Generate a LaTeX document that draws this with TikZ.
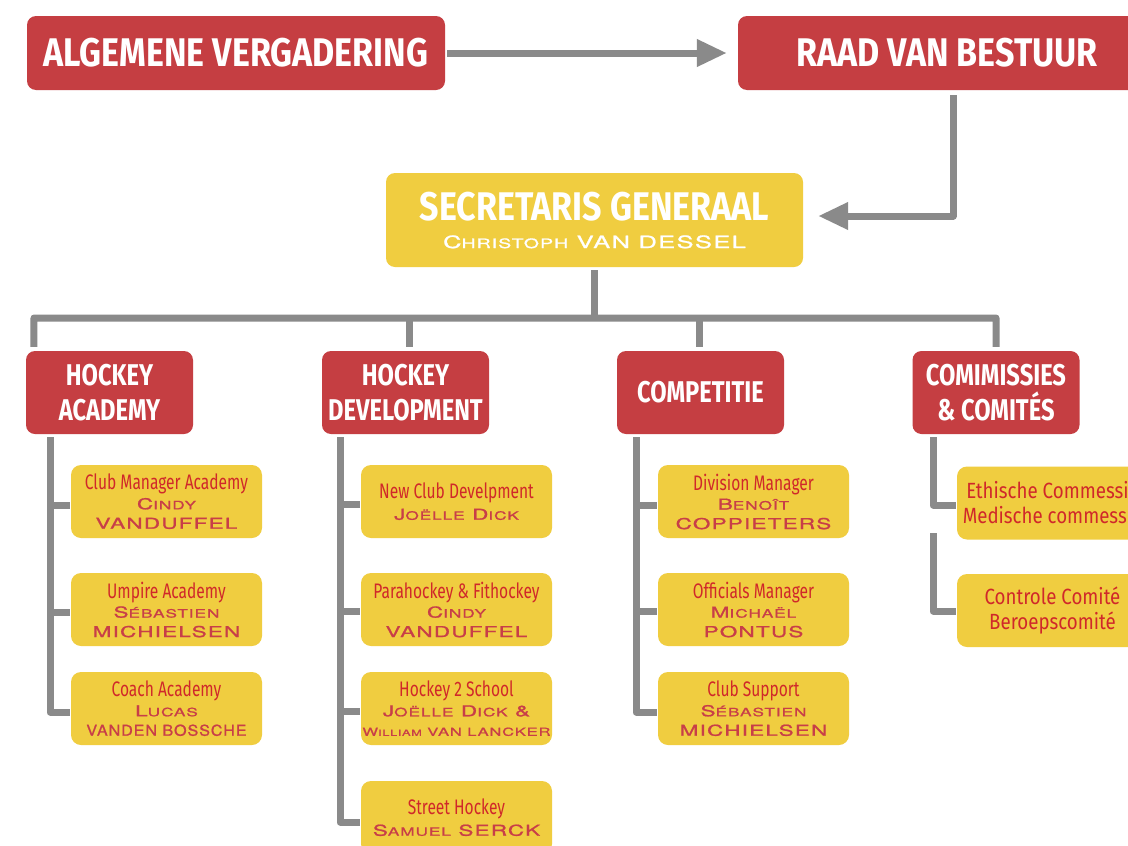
\documentclass[tikz,border=0pt]{standalone}
\usepackage{fontspec}
\usetikzlibrary{arrows.meta}
\newfontfamily\brushfont[FakeStretch=0.85]{Fira Sans}
\newfontfamily\headfont[FakeStretch=0.79]{Fira Sans}
\newfontfamily\condfont[FakeStretch=0.74]{Fira Sans}
\newfontfamily\widecond[FakeStretch=0.85]{Fira Sans}
\newfontfamily\capfont[FakeStretch=1.5,LetterSpace=8,FakeBold=1.2]{TeX Gyre Heros}
\definecolor{boxred}{RGB}{197,62,66}
\definecolor{boxyel}{RGB}{240,205,64}
\definecolor{linegray}{RGB}{138,138,138}
\definecolor{tred}{RGB}{208,40,42}
\definecolor{nred}{RGB}{200,62,72}
\newcommand\sk[2]{#1{\fontsize{11.5}{19.5}\selectfont #2}}
\newcommand\ttl[1]{{\condfont\fontsize{21}{19.5}\selectfont\color{tred}#1}}
\newcommand\ttlw[1]{{\widecond\fontsize{22}{19.5}\selectfont\color{tred}#1}}
\begin{document}
\begin{tikzpicture}[x=1pt,y=-1pt,
  conn/.style={draw=linegray, line width=7pt, line join=round},
  arrowed/.style={conn, -{Triangle[length=30pt,width=26pt]}},
  redbox/.style={fill=boxred, rounded corners=9pt, text=white, align=center, inner sep=0pt},
  bigred/.style={redbox, minimum width=418pt, minimum height=74pt, font=\brushfont\bfseries\fontsize{40}{44}\selectfont},
  headbox/.style={redbox, minimum width=167pt, minimum height=83pt, font=\headfont\bfseries\fontsize{30}{35}\selectfont},
  secbox/.style={fill=boxyel, rounded corners=9pt, text=white, align=center, inner sep=0pt, minimum width=417pt, minimum height=94pt, font=\brushfont\bfseries\fontsize{40}{28}\selectfont},
  subbox/.style={fill=boxyel, rounded corners=10pt, align=center, inner sep=0pt, minimum width=191pt, minimum height=73pt, text=nred, font=\capfont\fontsize{15}{19.5}\selectfont}
]
\clip (0,0) rectangle (1128,846);
\fill[white] (0,0) rectangle (1128,846);

% top row
\node[bigred] (av) at (236,53) {ALGEMENE VERGADERING};
\node[bigred] (rvb) at (947,53) {RAAD VAN BESTUUR};
\node[secbox] (sg) at (594.5,220) {SECRETARIS GENERAAL\\{\capfont\mdseries\fontsize{17}{28}\selectfont C{\fontsize{13}{28}\selectfont HRISTOPH} VAN DESSEL}};

% headers
\node[headbox] (ha) at (109.5,392.5) {HOCKEY\\ACADEMY};
\node[headbox] (hd) at (405.5,392.5) {HOCKEY\\DEVELOPMENT};
\node[headbox] (hc) at (700.5,392.5) {COMPETITIE};
\node[headbox] (hm) at (996,392.5) {COMIMISSIES\\\& COMITÉS};

% academy
\node[subbox] (a1) at (166.5,501.5) {\ttl{Club Manager Academy}\\\sk{C}{INDY}\\VANDUFFEL};
\node[subbox] (a2) at (166.5,609.5) {\ttl{Umpire Academy}\\\sk{S}{ÉBASTIEN}\\MICHIELSEN};
\node[subbox] (a3) at (166.5,708.5) {\ttl{Coach Academy}\\\sk{L}{UCAS}\\\scalebox{0.72}[1]{VANDEN BOSSCHE}};

% development
\node[subbox] (d1) at (456.5,501.5) {\ttl{New Club Develpment}\\[1.5pt]\sk{J}{OËLLE} \sk{D}{ICK}};
\node[subbox] (d2) at (456.5,609.5) {\ttl{Parahockey \& Fithockey}\\\sk{C}{INDY}\\VANDUFFEL};
\node[subbox] (d3) at (456.5,708.5) {\ttl{Hockey 2 School}\\\sk{J}{OËLLE} \sk{D}{ICK} \&\\{\fontsize{11}{19.5}\selectfont W{\fontsize{8.5}{19.5}\selectfont ILLIAM} VAN LANCKER}};
\node[subbox] (d4) at (456.5,817.5) {\ttl{Street Hockey}\\[1.5pt]\sk{S}{AMUEL} SERCK};

% competitie
\node[subbox] (c1) at (753.5,501.5) {\ttl{Division Manager}\\\sk{B}{ENOÎT}\\COPPIETERS};
\node[subbox] (c2) at (753.5,609.5) {\ttl{Officials Manager}\\\sk{M}{ICHAËL}\\PONTUS};
\node[subbox] (c3) at (753.5,708.5) {\ttl{Club Support}\\\sk{S}{ÉBASTIEN}\\MICHIELSEN};

% commissies
\node[subbox] (m1) at (1052.5,503) {\ttlw{Ethische Commessie}\\[5.5pt]\ttlw{Medische commessie}};
\node[subbox] (m2) at (1052.5,610.5) {\ttlw{Controle Comité}\\[5.5pt]\ttlw{Beroepscomité}};

% connectors top
\draw[arrowed, shorten <=2pt, shorten >=11pt] (av) -- (rvb);
\draw[arrowed, shorten >=15pt] ([xshift=6pt,yshift=-5pt]rvb.south) |- ([yshift=4pt]sg.east);

% bus
\coordinate (busL) at (34,318);
\coordinate (busR) at (996,318);
\draw[conn] ([yshift=-3pt]sg.south) -- (sg.south |- busL);
\draw[conn] ([shift={(8pt,4pt)}]ha.north west) -- (busL) -- (busR) -- ([yshift=4pt]hm.north);
\draw[conn] ([shift={(3.5pt,4pt)}]hd.north) -- ([xshift=3.5pt]hd.north |- busL);
\draw[conn] ([shift={(-1.5pt,4pt)}]hc.north) -- ([xshift=-1.5pt]hc.north |- busL);

% trunks
\coordinate (ta) at (50,437);
\draw[conn] (ta) |- ([shift={(-1pt,-3.5pt)}]a3.west);
\draw[conn] ([shift={(-1pt,-3.5pt)}]a1.west) -- ([yshift=-3.5pt]a1.west -| ta);
\draw[conn] ([shift={(-1pt,-3pt)}]a2.west) -- ([yshift=-3pt]a2.west -| ta);

\coordinate (td) at (340,437);
\draw[conn] (td) |- ([shift={(-1pt,-4.5pt)}]d4.west);
\draw[conn] ([shift={(-1pt,-2.5pt)}]d1.west) -- ([yshift=-2.5pt]d1.west -| td);
\draw[conn] ([shift={(-1pt,-1.5pt)}]d2.west) -- ([yshift=-1.5pt]d2.west -| td);
\draw[conn] ([shift={(-1pt,-2.5pt)}]d3.west) -- ([yshift=-2.5pt]d3.west -| td);

\coordinate (tc) at (636,437);
\draw[conn] (tc) |- ([shift={(-1pt,-3.5pt)}]c3.west);
\draw[conn] ([shift={(-1pt,-3.5pt)}]c1.west) -- ([yshift=-3.5pt]c1.west -| tc);
\draw[conn] ([shift={(-1pt,-1.5pt)}]c2.west) -- ([yshift=-1.5pt]c2.west -| tc);

\coordinate (tm) at (933,437);
\coordinate (tm2) at (933,533);
\draw[conn] (tm) |- ([shift={(-1pt,-2pt)}]m1.west);
\draw[conn] (tm2) |- ([shift={(-1pt,-0.5pt)}]m2.west);
\end{tikzpicture}
\end{document}
